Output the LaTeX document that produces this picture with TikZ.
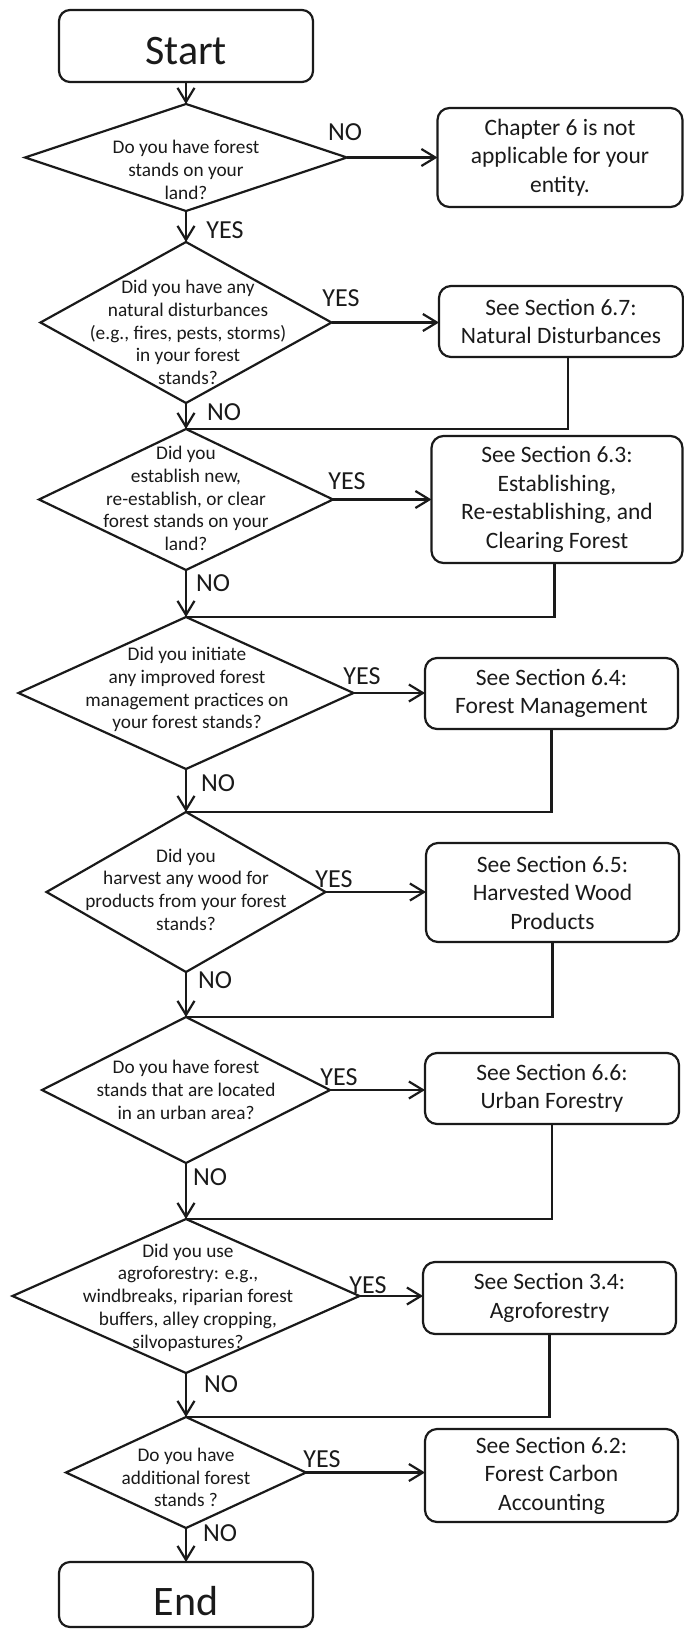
\documentclass[tikz,border=0pt]{standalone}
\usepackage{fontspec}
\setmainfont{Carlito}
\usetikzlibrary{shapes.geometric,arrows.meta}
\definecolor{ink}{HTML}{1A1A1A}
\begin{document}
\begin{tikzpicture}[x=1pt,y=-1pt,line width=2.2pt,color=ink,
  every node/.style={outer sep=0pt},
  termbox/.style={draw, rounded corners=11pt, minimum width=254pt, inner sep=0pt, font=\fontsize{42}{49}\selectfont},
  secbox/.style={draw, rounded corners=12pt, inner sep=0pt, align=center, font=\fontsize{23.5}{28.5}\selectfont},
  decision/.style={draw, diamond, inner sep=0pt},
  qtext/.style={align=center, inner sep=0pt, font=\fontsize{19.3}{22.7}\selectfont},
  ans/.style={inner sep=0pt, font=\fontsize{26}{30}\selectfont},
  flow/.style={-{Straight Barb[length=14pt,width=17pt]}},
  link/.style={}
]
\useasboundingbox (0,0) rectangle (684,1629);

% terminals
\node[termbox, minimum height=72pt, text height=38pt, text depth=0pt] (start) at (186,46) {Start};
\node[termbox, minimum height=65pt, text height=41pt, text depth=0pt] (end) at (186,1594.5) {End};

% decisions
\node[decision, minimum width=322pt, minimum height=107pt] (d1) at (186,157.5) {};
\node[decision, minimum width=291pt, minimum height=161pt] (d2) at (186,322.5) {};
\node[decision, minimum width=294pt, minimum height=141pt] (d3) at (186,499.5) {};
\node[decision, minimum width=335pt, minimum height=152pt] (d4) at (186,693) {};
\node[decision, minimum width=279pt, minimum height=160pt] (d5) at (186,892) {};
\node[decision, minimum width=288pt, minimum height=146pt] (d6) at (186,1090) {};
\node[decision, minimum width=347pt, minimum height=154pt] (d7) at (186,1296) {};
\node[decision, minimum width=240pt, minimum height=111pt] (d8) at (186,1472.5) {};

% question texts
\node[qtext] (q1) at (186,170) {Do you have forest\\stands on your\\land?};
\node[qtext] (q2) at (188,332.5) {Did you have any\\natural disturbances\\(e.g., fires, pests, storms)\\in your forest\\stands?};
\node[qtext] (q3) at (186,498.5) {Did you\\establish new,\\re-establish, or clear\\forest stands on your\\land?};
\node[qtext] (q4) at (187,689.5) {Did you initiate\\any improved forest\\management practices on\\your forest stands?};
\node[qtext] (q5) at (186,889.5) {Did you\\harvest any wood for\\products from your forest\\stands?};
\node[qtext] (q6) at (186,1090) {Do you have forest\\stands that are located\\in an urban area?};
\node[qtext] (q7) at (188,1297.5) {Did you use\\agroforestry: e.g.,\\windbreaks, riparian forest\\buffers, alley cropping,\\silvopastures?};
\node[qtext] (q8) at (186,1477.5) {Do you have\\additional forest\\stands ?};

% result boxes
\node[secbox, minimum width=245pt, minimum height=99pt] (chap) at (560,157.5) {Chapter 6 is not\\applicable for your\\entity.};
\node[secbox, minimum width=244pt, minimum height=71pt] (b67) at (561,321.5) {See Section 6.7:\\Natural Disturbances};
\node[secbox, minimum width=251pt, minimum height=127pt] (b63) at (557,499.5) {See Section 6.3:\\Establishing,\\Re-establishing, and\\Clearing Forest};
\node[secbox, minimum width=253pt, minimum height=71pt] (b64) at (551.5,693.5) {See Section 6.4:\\Forest Management};
\node[secbox, minimum width=253pt, minimum height=99pt] (b65) at (552.5,892.5) {See Section 6.5:\\Harvested Wood\\Products};
\node[secbox, minimum width=254pt, minimum height=71pt] (b66) at (552,1088.5) {See Section 6.6:\\Urban Forestry};
\node[secbox, minimum width=253pt, minimum height=72pt] (b34) at (549.5,1298) {See Section 3.4:\\Agroforestry};
\node[secbox, minimum width=253pt, minimum height=93pt] (b62) at (551.5,1475.5) {See Section 6.2:\\Forest Carbon\\Accounting};

% answer labels
\node[ans] (n1) at (345,132) {NO};
\node[ans] (y1) at (225,230) {YES};
\node[ans] (y2) at (341,298) {YES};
\node[ans] (n2) at (224,412) {NO};
\node[ans] (y3) at (347,481) {YES};
\node[ans] (n3) at (213,583) {NO};
\node[ans] (y4) at (362,676) {YES};
\node[ans] (n4) at (218,783) {NO};
\node[ans] (y5) at (334,879) {YES};
\node[ans] (n5) at (215,980) {NO};
\node[ans] (y6) at (339,1077) {YES};
\node[ans] (n6) at (210,1177) {NO};
\node[ans] (y7) at (368,1285) {YES};
\node[ans] (n7) at (221,1384) {NO};
\node[ans] (y8) at (322,1459) {YES};
\node[ans] (n8) at (220,1533) {NO};

% main flow
\draw[flow] (start) -- (d1.north);
\draw[flow] (d1.south) -- (d2.north);
\draw[flow] (d2.south) -- (d3.north);
\draw[flow] (d3.south) -- (d4.north);
\draw[flow] (d4.south) -- (d5.north);
\draw[flow] (d5.south) -- (d6.north);
\draw[flow] (d6.south) -- (d7.north);
\draw[flow] (d7.south) -- (d8.north);
\draw[flow] (d8.south) -- (end.north);

% yes branches
\draw[flow] (d1.east) -- (chap.west |- d1.east);
\draw[flow] (d2.east) -- (b67.west |- d2.east);
\draw[flow] (d3.east) -- (b63.west |- d3.east);
\draw[flow] (d4.east) -- (b64.west |- d4.east);
\draw[flow] (d5.east) -- (b65.west |- d5.east);
\draw[flow] (d6.east) -- (b66.west |- d6.east);
\draw[flow] (d7.east) -- (b34.west |- d7.east);
\draw[flow] (d8.east) -- (b62.west |- d8.east);

% returns
\draw[link] ([xshift=7pt]b67.south) |- (d3.north);
\draw[link] ([xshift=-2.5pt]b63.south) |- (d4.north);
\draw[link] (b64.south) |- (d5.north);
\draw[link] (b65.south) |- (d6.north);
\draw[link] (b66.south) |- (d7.north);
\draw[link] (b34.south) |- (d8.north);
\end{tikzpicture}
\end{document}
